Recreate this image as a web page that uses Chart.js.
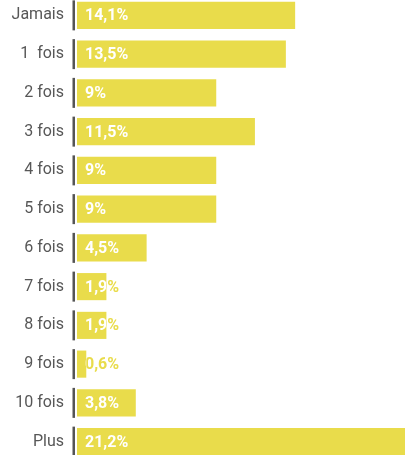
<!DOCTYPE html>
<html lang="fr">
<head>
  <meta charset="UTF-8">
  <title>Fréquence</title>
  <script src="https://cdn.jsdelivr.net/npm/chart.js"></script>
  <style>
    html, body { margin: 0; padding: 0; overflow: hidden; background: #fff; }
    #myChart { position: absolute; left: 0; top: -4px; }
  </style>
</head>
<body>
  <canvas id="myChart" width="405" height="465"></canvas>

  <script>
    // Catégories et pourcentages
    const categories = ['Jamais', '1  fois', '2 fois', '3 fois', '4 fois', '5 fois',
                        '6 fois', '7 fois', '8 fois', '9 fois', '10 fois', 'Plus'];
    const percents = [14.1, 13.5, 9, 11.5, 9, 9, 4.5, 1.9, 1.9, 0.6, 3.8, 21.2];

    const barColor = '#E9DC4B';

    // petits traits gris à gauche de chaque barre
    const axisSegments = {
      id: 'axisSegments',
      afterDatasetsDraw(chart) {
        const ctx = chart.ctx;
        const y = chart.scales.y;
        ctx.save();
        ctx.fillStyle = '#555';
        categories.forEach((c, i) => {
          const cy = y.getPixelForValue(i);
          ctx.fillRect(72.5, cy - 15, 2.5, 30);
        });
        ctx.restore();
      }
    };

    // valeurs : blanches sur la barre, jaunes en dehors
    const valueLabels = {
      id: 'valueLabels',
      afterDatasetsDraw(chart) {
        const ctx = chart.ctx;
        const meta = chart.getDatasetMeta(0);
        ctx.save();
        ctx.font = 'bold 16px Roboto';
        ctx.textBaseline = 'middle';
        ctx.textAlign = 'left';
        meta.data.forEach((bar, i) => {
          const txt = String(percents[i]).replace('.', ',') + '%';
          const x = chart.chartArea.left + 8;
          const yy = bar.y + 1;
          ctx.fillStyle = barColor;
          ctx.fillText(txt, x, yy);
          ctx.save();
          ctx.beginPath();
          ctx.rect(bar.base, bar.y - bar.height / 2, bar.x - bar.base, bar.height);
          ctx.clip();
          ctx.fillStyle = '#fff';
          ctx.fillText(txt, x, yy);
          ctx.restore();
        });
        ctx.restore();
      }
    };

    new Chart(document.getElementById('myChart'), {
      type: 'bar',
      data: {
        labels: categories,
        datasets: [{
          data: percents,
          backgroundColor: barColor,
          borderWidth: 0,
          categoryPercentage: 1,
          barPercentage: 0.7
        }]
      },
      options: {
        indexAxis: 'y',
        responsive: false,
        animation: false,
        layout: { padding: 0 },
        plugins: { legend: { display: false }, tooltip: { enabled: false } },
        scales: {
          x: { display: false, min: 0, max: 21.2 },
          y: {
            border: { display: false },
            grid: { display: false, drawTicks: false },
            ticks: { color: '#575757', font: { family: 'Roboto', size: 16 }, padding: 13 },
            afterFit(scale) {
              scale.width = 77;
              scale.paddingTop = 0;
              scale.paddingBottom = 0;
            }
          }
        }
      },
      plugins: [axisSegments, valueLabels]
    });
  </script>
</body>
</html>
